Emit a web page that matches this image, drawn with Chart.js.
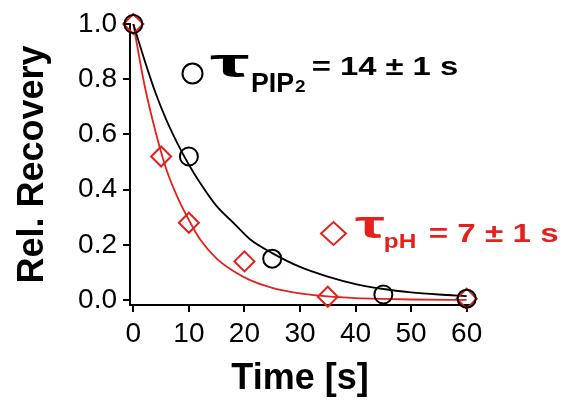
<!DOCTYPE html>
<html>
<head>
<meta charset="utf-8">
<script src="https://cdn.jsdelivr.net/npm/chart.js@4/dist/chart.umd.min.js"></script>
<style>
  html, body { margin: 0; padding: 0; background: #fff; }
  #wrap { width: 567px; height: 402px; position: relative; }
</style>
</head>
<body>
<div id="wrap"><canvas id="recoveryChart"></canvas></div>
<script>
// Tick labels
const xTicks = [0, 10, 20, 30, 40, 50, 60];
const yTicks = [0, 0.2, 0.4, 0.6, 0.8, 1.0];

// Measured points (time in s, relative recovery)
const pip2Time = [0, 10, 25, 45, 60];
const pip2Values = [1.0, 0.52, 0.15, 0.02, 0.005];
const phTime = [0, 5, 10, 20, 35, 60];
const phValues = [1.0, 0.52, 0.28, 0.14, 0.012, 0.005];

// Fit curves
const pip2FitTime = [0, 2, 4, 6, 8, 10, 12, 15, 18, 21, 25, 30, 35, 40, 45, 50, 55, 60];
const pip2FitValues = [1.0, 0.87, 0.75, 0.65, 0.565, 0.49, 0.425, 0.34, 0.28, 0.22, 0.17, 0.12, 0.085, 0.058, 0.04, 0.028, 0.02, 0.014];
const phFitTime = [0, 2, 4, 6, 8, 10, 12, 15, 18, 21, 25, 30, 35, 40, 45, 50, 60];
const phFitValues = [1.0, 0.78, 0.61, 0.47, 0.37, 0.29, 0.22, 0.15, 0.105, 0.072, 0.044, 0.024, 0.013, 0.007, 0.004, 0.002, 0.0005];

const RED = '#e3211d';
const FONT = "'Liberation Sans', Arial, sans-serif";

function toPoints(xs, ys) {
    return xs.map((x, i) => ({ x: x, y: ys[i] }));
}

// Draw text so its ink spans [left, right], stretched horizontally
function fitText(ctx, text, left, right, baseline, font, color) {
    ctx.save();
    ctx.font = font;
    ctx.fillStyle = color;
    ctx.textBaseline = 'alphabetic';
    ctx.textAlign = 'left';
    const m = ctx.measureText(text);
    const inkW = m.actualBoundingBoxLeft + m.actualBoundingBoxRight;
    const sx = (right - left) / inkW;
    ctx.translate(left, baseline);
    ctx.scale(sx, 1);
    ctx.fillText(text, m.actualBoundingBoxLeft, 0);
    ctx.restore();
}

// Labels with tau symbols
const labelPlugin = {
    id: 'tauLabels',
    afterDatasetsDraw(chart) {
        const ctx = chart.ctx;
        ctx.save();
        // black label
        ctx.strokeStyle = '#000';
        ctx.lineWidth = 2;
        ctx.beginPath();
        ctx.arc(192.5, 73.5, 10, 0, Math.PI * 2);
        ctx.stroke();
        fitText(ctx, 'τ', 210, 250, 77, 'bold 40px ' + FONT, '#000');
        fitText(ctx, 'PIP', 252, 294, 92, 'bold 27px ' + FONT, '#000');
        fitText(ctx, '2', 295, 305, 92, 'bold 17px ' + FONT, '#000');
        fitText(ctx, '= 14 ± 1 s', 313, 457, 75, 'bold 25px ' + FONT, '#000');

        // red label
        ctx.strokeStyle = RED;
        ctx.lineWidth = 2;
        ctx.beginPath();
        ctx.moveTo(321, 233.5);
        ctx.lineTo(333.5, 222);
        ctx.lineTo(346, 233.5);
        ctx.lineTo(333.5, 245);
        ctx.closePath();
        ctx.stroke();
        fitText(ctx, 'τ', 355, 385, 238, 'bold 38px ' + FONT, RED);
        fitText(ctx, 'pH', 385, 415, 248, 'bold 21px ' + FONT, RED);
        fitText(ctx, '= 7 ± 1 s', 430, 558, 242, 'bold 26px ' + FONT, RED);
        ctx.restore();
    }
};

const chart = new Chart(document.getElementById('recoveryChart'), {
    type: 'scatter',
    data: {
        datasets: [
            {
                data: toPoints(pip2Time, pip2Values),
                pointStyle: 'circle',
                pointRadius: 9,
                borderColor: '#000',
                backgroundColor: 'rgba(0,0,0,0)',
                borderWidth: 2,
                clip: false
            },
            {
                data: toPoints(phTime, phValues),
                pointStyle: 'rectRot',
                pointRadius: 10,
                borderColor: RED,
                backgroundColor: 'rgba(0,0,0,0)',
                borderWidth: 2,
                clip: false
            },
            {
                data: toPoints(pip2FitTime, pip2FitValues),
                showLine: true,
                pointRadius: 0,
                borderColor: '#000',
                borderWidth: 1.8,
                cubicInterpolationMode: 'monotone'
            },
            {
                data: toPoints(phFitTime, phFitValues),
                showLine: true,
                pointRadius: 0,
                borderColor: RED,
                borderWidth: 1.8,
                cubicInterpolationMode: 'monotone'
            }
        ]
    },
    options: {
        responsive: true,
        maintainAspectRatio: false,
        animation: false,
        layout: { padding: { left: 0, right: 97, top: 24, bottom: 0 } },
        plugins: {
            legend: { display: false },
            tooltip: { enabled: false }
        },
        scales: {
            x: {
                type: 'linear',
                min: -0.6,
                max: 60.6,
                afterBuildTicks: (axis) => { axis.ticks = xTicks.map(v => ({ value: v })); },
                afterFit: (axis) => { axis.height = 97; },
                grid: { drawOnChartArea: false, drawTicks: true, tickLength: 7, color: '#000', lineWidth: 2 },
                border: { display: true, color: '#000', width: 2 },
                ticks: { color: '#000', padding: 5, maxRotation: 0, font: { family: FONT, size: 28 } },
                title: {
                    display: true,
                    text: 'Time [s]',
                    color: '#000',
                    padding: { top: 0, bottom: 1 },
                    font: { family: FONT, size: 36, weight: 'bold' }
                }
            },
            y: {
                type: 'linear',
                min: -0.018,
                max: 1.0,
                afterBuildTicks: (axis) => { axis.ticks = yTicks.map(v => ({ value: v })); },
                afterFit: (axis) => { axis.width = 130; },
                grid: { drawOnChartArea: false, drawTicks: true, tickLength: 7, color: '#000', lineWidth: 2 },
                border: { display: true, color: '#000', width: 2 },
                ticks: {
                    color: '#000',
                    padding: 6,
                    font: { family: FONT, size: 28 },
                    callback: (v) => Number(v).toFixed(1)
                },
                title: {
                    display: true,
                    text: 'Rel. Recovery',
                    color: '#000',
                    padding: { top: 11, bottom: 0 },
                    font: { family: FONT, size: 36, weight: 'bold' }
                }
            }
        }
    },
    plugins: [labelPlugin]
});
</script>
</body>
</html>
